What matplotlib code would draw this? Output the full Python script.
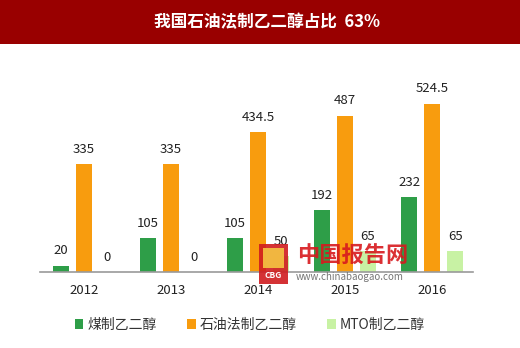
import numpy as np
import matplotlib
matplotlib.use('Agg')
from matplotlib import pyplot as plt
from matplotlib.patches import Rectangle

plt.rcParams['font.family'] = ['Noto Sans CJK SC', 'DejaVu Sans']

years = ['2012', '2013', '2014', '2015', '2016']
series_names = ['煤制乙二醇', '石油法制乙二醇', 'MTO制乙二醇']
coal = [20, 105, 105, 192, 232]
petro = [335, 335, 434.5, 487, 524.5]
mto = [0, 0, 50, 65, 65]
colors = ['#2e9e48', '#f89c0e', '#c8f2a4']
title = '我国石油法制乙二醇占比  63%'

W, H = 520, 348
fig = plt.figure(figsize=(W / 100, H / 100), dpi=100)
fig.patch.set_facecolor('white')

# title bar
fig.patches.append(Rectangle((0, 1 - 44 / H), 1, 44 / H, transform=fig.transFigure,
                             facecolor='#990000', edgecolor='none', zorder=0))
fig.text(267 / W, 1 - 22 / H, title, color='white', fontsize=12, fontweight='bold',
         ha='center', va='center')

ax = fig.add_axes([40 / W, 1 - 272 / H, 433 / W, 212 / H])
x = np.arange(len(years))
bw = 0.184
off = 0.264
for i, (vals, c) in enumerate(zip([coal, petro, mto], colors)):
    pos = x + (i - 1) * off
    ax.bar(pos, vals, width=bw, color=c, label=series_names[i], zorder=2)
    for p, v in zip(pos, vals):
        ax.annotate(f'{v:g}', (p, v), xytext=(0, 6), textcoords='offset points',
                    ha='center', va='bottom', fontsize=9.5, color='#222222')

ax.set_xlim(-0.506, 4.47)
ax.set_ylim(0, 660)
ax.set_xticks(x)
ax.set_xticklabels(years, fontsize=9.5, color='#222222')
ax.tick_params(axis='x', length=0, pad=9)
ax.set_yticks([])
for s in ['top', 'right', 'left']:
    ax.spines[s].set_visible(False)
ax.spines['bottom'].set_color('#9a9a9a')
ax.spines['bottom'].set_linewidth(1.2)

handles, labels = ax.get_legend_handles_labels()
leg = fig.legend(handles, labels, loc='center', bbox_to_anchor=(250 / W, 1 - 325 / H),
                 ncol=3, frameon=False, fontsize=10, handlelength=0.6, handleheight=0.8,
                 handletextpad=0.3, columnspacing=2.2)
for t in leg.get_texts():
    t.set_color('#333333')

# watermark
fig.patches.append(Rectangle((259 / W, 1 - 284 / H), 29 / W, 40 / H, transform=fig.transFigure,
                             facecolor='#d01c1f', edgecolor='none', alpha=0.9, zorder=5))
fig.patches.append(Rectangle((263 / W, 1 - 268 / H), 21 / W, 20 / H, transform=fig.transFigure,
                             facecolor='#f5c542', edgecolor='none', alpha=0.9, zorder=6))
fig.text(273.5 / W, 1 - 276 / H, 'CBG', color='white', fontsize=6, fontweight='bold',
         ha='center', va='center', zorder=7)
fig.text(353 / W, 1 - 256 / H, '中国报告网', color='#d7191e', fontsize=16, fontweight='bold',
         ha='center', va='center', alpha=0.9, zorder=7)
fig.text(350 / W, 1 - 277 / H, 'www.chinabaogao.com', color='#666666', fontsize=7,
         ha='center', va='center', alpha=0.9, zorder=7)

fig.savefig('out.png', dpi=100)
